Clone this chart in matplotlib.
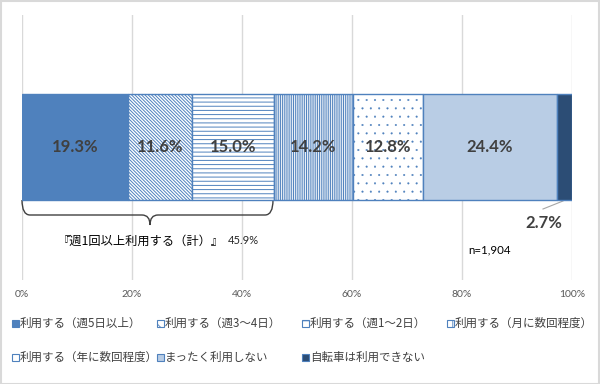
import matplotlib
matplotlib.use("Agg")
import matplotlib.pyplot as plt
from matplotlib.patches import Rectangle, PathPatch
from matplotlib.path import Path

plt.rcParams['font.family'] = ['Noto Sans CJK JP', 'DejaVu Sans']
plt.rcParams['hatch.linewidth'] = 0.7

categories = ["利用する（週5日以上）", "利用する（週3～4日）", "利用する（週1～2日）",
              "利用する（月に数回程度）", "利用する（年に数回程度）", "まったく利用しない",
              "自転車は利用できない"]
values = [19.3, 11.6, 15.0, 14.2, 12.8, 24.4, 2.7]
xticks = [0, 20, 40, 60, 80, 100]
tick_labels = ["0%", "20%", "40%", "60%", "80%", "100%"]
bracket_label = "『週1回以上利用する（計）』"
bracket_value = "45.9%"
n_label = "n=1,904"

BLUE = "#4F81BD"
faces = [BLUE, "white", "white", "white", "white", "#B9CDE5", "#2C4D75"]
hatches = [None, "\\" * 10, "----", "|" * 9, "..", None, None]
hatch_lw = [0.7, 0.7, 0.7, 0.7, 0.25, 0.7, 0.7]

W, H = 600, 384
fig = plt.figure(figsize=(6, 3.84), dpi=100)
ax = fig.add_axes([22 / W, 1 - 280 / H, 550 / W, 265 / H])
ax.set_xlim(0, 100)
ax.set_ylim(0, 1)

def ypx(py):
    return (280 - py) / 265

def xpx(px):
    return (px - 22) / 5.5

bar_bottom = ypx(200)
bar_top = ypx(94)
left = 0
for i, v in enumerate(values):
    with plt.rc_context({'hatch.linewidth': hatch_lw[i]}):
        ax.barh((bar_bottom + bar_top) / 2, v, height=bar_top - bar_bottom, left=left,
                color=faces[i], edgecolor=BLUE, linewidth=1, hatch=hatches[i], zorder=3)
    if i < len(values) - 1:
        ax.text(left + v / 2, (bar_bottom + bar_top) / 2, f"{v:.1f}%", ha="center", va="center",
                fontsize=12, fontweight="bold", family="Lato", color="#404040", zorder=5)
    left += v

# outside label for last segment
ax.text(xpx(543.5), ypx(223), f"{values[-1]:.1f}%", ha="center", va="center",
        fontsize=12, fontweight="bold", family="Lato", color="#404040")
ax.plot([xpx(543), xpx(563)], [ypx(209), ypx(201)], color="#A6A6A6", lw=0.8)

# axes styling
for s in ax.spines.values():
    s.set_visible(False)
ax.set_yticks([])
ax.set_xticks(xticks)
ax.set_xticklabels(tick_labels, family="Lato", fontsize=7.5, color="#595959")
ax.tick_params(axis="x", length=0, pad=7)
ax.grid(axis="x", color="#D9D9D9", lw=1, zorder=0)
ax.set_axisbelow(True)

# brace
pts = [(22, 200), (22, 215), (30, 215), (142, 215), (150, 215), (150, 225),
       (150, 215), (158, 215), (265, 215), (273, 215), (273, 200)]
codes = [Path.MOVETO, Path.CURVE3, Path.CURVE3, Path.LINETO, Path.CURVE3, Path.CURVE3,
         Path.CURVE3, Path.CURVE3, Path.LINETO, Path.CURVE3, Path.CURVE3]
verts = [(xpx(px), ypx(py)) for px, py in pts]
ax.add_patch(PathPatch(Path(verts, codes), facecolor="none", edgecolor="#404040", lw=1,
                       clip_on=False))
ax.text(xpx(140.5), ypx(241), bracket_label, ha="center", va="center", fontsize=8.8,
        color="#000000")
ax.text(xpx(228), ypx(241), bracket_value, ha="left", va="center", fontsize=8,
        family="Lato", color="#262626")
ax.text(xpx(468), ypx(250), n_label, ha="left", va="center", fontsize=8.3,
        family="Lato", color="#000000")

# legend (manual placement)
col_x = [12, 157, 302, 447]
row_y = [323.5, 357]
leg_hatch = [None, "\\\\\\", "--", "|||", ".", None, None]
for i, cat in enumerate(categories):
    r, c = divmod(i, 4)
    x0, yc = col_x[c], row_y[r]
    with plt.rc_context({'hatch.linewidth': 0.6}):
        fig.patches.append(Rectangle((x0 / W, 1 - (yc + 3.5) / H), 7 / W, 7 / H,
                                     transform=fig.transFigure, facecolor=faces[i],
                                     edgecolor=BLUE, lw=0.8, hatch=leg_hatch[i]))
    fig.text((x0 + 8) / W, 1 - yc / H, cat, ha="left", va="center", fontsize=8.3,
             color="#404040")

# figure border
fig.patches.append(Rectangle((0.5 / W, 0.5 / H), 1 - 1.5 / W, 1 - 1.5 / H,
                             transform=fig.transFigure, facecolor="none",
                             edgecolor="#D9D9D9", lw=1.5))

fig.savefig("out.png", dpi=100)
